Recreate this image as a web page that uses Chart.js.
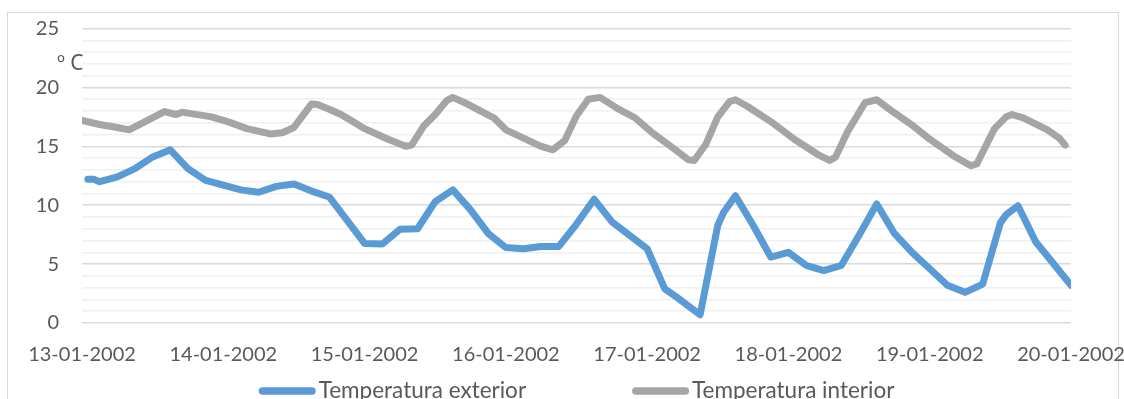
<!DOCTYPE html>
<html>
<head>
<meta charset="utf-8">
<script src="https://cdn.jsdelivr.net/npm/chart.js@4.4.1/dist/chart.umd.min.js"></script>
<style>
  html, body { margin: 0; padding: 0; background: #ffffff; overflow: hidden; }
  #frame { position: absolute; left: 7px; top: 12px; width: 1112px; height: 430px;
           border: 1px solid #d9d9d9; box-sizing: border-box; }
  #wrap { position: absolute; left: 0; top: 0; width: 1124px; height: 399px; }
</style>
</head>
<body>
<div id="frame"></div>
<div id="wrap"><canvas id="chart" width="1124" height="399"></canvas></div>
<script>
// Day labels shown under the time axis (one per midnight)
const dateLabels = ['13-01-2002', '14-01-2002', '15-01-2002', '16-01-2002',
                    '17-01-2002', '18-01-2002', '19-01-2002', '20-01-2002'];

// Outdoor temperature: hours since 13-01-2002 00:00 and readings in ºC
const exteriorHours = [1, 2, 3, 6, 9, 12, 14, 15, 18, 21, 24, 27, 30, 33, 36, 39, 42,
                       48, 51, 54, 57, 60, 63, 66, 69, 72, 75, 78, 81, 84, 87, 90, 93, 96,
                       99, 101, 105, 108, 109, 111, 114, 117, 120, 123, 126, 129, 132, 135,
                       138, 141, 144, 147, 150, 153, 156, 157, 159, 162, 165, 168];
const exteriorTemps = [12.2, 12.2, 12.0, 12.4, 13.1, 14.1, 14.5, 14.7, 13.1, 12.1, 11.7, 11.3, 11.1, 11.6, 11.8, 11.2, 10.7,
                       6.75, 6.7, 7.95, 8.0, 10.3, 11.3, 9.6, 7.6, 6.4, 6.3, 6.5, 6.5, 8.4, 10.5, 8.6, 7.45, 6.3,
                       2.9, 2.2, 0.7, 8.3, 9.4, 10.8, 8.3, 5.6, 6.0, 4.9, 4.45, 4.9, 7.45, 10.1,
                       7.6, 6.0, 4.6, 3.2, 2.6, 3.3, 8.5, 9.2, 9.95, 6.9, 5.05, 3.2];

// Indoor temperature: hours since 13-01-2002 00:00 and readings in ºC
const interiorHours = [0, 3, 6, 8, 14, 16, 17, 22, 25, 28, 32, 34, 36, 39, 40, 42, 44, 46,
                       48, 52, 55, 56, 58, 60, 62, 63, 65, 70, 72, 75, 78, 80, 82, 84, 86, 88,
                       91, 94, 97, 100, 103, 104, 106, 108, 110, 111, 113, 117, 121, 125, 127,
                       128, 130, 133, 135, 137, 141, 144, 148, 151, 152, 155, 157, 158, 160,
                       164, 166, 167];
const interiorTemps = [17.2, 16.85, 16.6, 16.4, 17.95, 17.7, 17.9, 17.5, 17.05, 16.5, 16.05, 16.15, 16.6, 18.6, 18.55, 18.15, 17.7, 17.1,
                       16.5, 15.6, 15.0, 15.1, 16.7, 17.7, 18.9, 19.15, 18.7, 17.4, 16.4, 15.7, 15.0, 14.7, 15.5, 17.6, 19.0, 19.15,
                       18.2, 17.4, 16.1, 15.0, 13.85, 13.8, 15.2, 17.5, 18.8, 18.95, 18.4, 17.1, 15.6, 14.3, 13.8,
                       14.1, 16.2, 18.7, 18.95, 18.2, 16.8, 15.6, 14.2, 13.35, 13.5, 16.5, 17.5, 17.7, 17.4,
                       16.4, 15.7, 15.1];

const seriesNames = ['Temperatura exterior', 'Temperatura interior'];
const seriesColors = ['#5b9bd5', '#a5a5a5'];
const unitLabel = 'º C';

const toPoints = (hours, temps) => hours.map((h, i) => ({ x: h, y: temps[i] }));

const textColor = '#595959';
const fontFamily = 'Lato, "Open Sans", sans-serif';

// Unit caption drawn beside the upper part of the value axis
const unitCaption = {
  id: 'unitCaption',
  afterDraw(chart, args, opts) {
    const { ctx, chartArea, scales } = chart;
    ctx.save();
    ctx.font = '21px "Noto Sans", sans-serif';
    ctx.fillStyle = textColor;
    ctx.textAlign = 'left';
    ctx.textBaseline = 'middle';
    ctx.fillText(opts.text, chartArea.left - 25, scales.y.getPixelForValue(22));
    ctx.restore();
  }
};

// Legend with line samples, centred under the plot area
const lineLegend = {
  id: 'lineLegend',
  afterDraw(chart, args, opts) {
    const { ctx, chartArea } = chart;
    ctx.save();
    ctx.font = `${opts.fontSize}px ${fontFamily}`;
    const items = chart.data.datasets.map(ds => ({
      text: ds.label, color: ds.borderColor, w: ctx.measureText(ds.label).width
    }));
    const total = items.reduce((s, it) => s + opts.sample + opts.gap + it.w, 0)
                  + opts.spacing * (items.length - 1);
    let x = (chartArea.left + chartArea.right) / 2 - total / 2;
    const yLine = chart.height - opts.bottom;
    items.forEach(it => {
      ctx.strokeStyle = it.color;
      ctx.lineWidth = opts.lineWidth;
      ctx.lineCap = 'round';
      ctx.beginPath();
      ctx.moveTo(x + opts.lineWidth / 2, yLine);
      ctx.lineTo(x + opts.sample - opts.lineWidth / 2, yLine);
      ctx.stroke();
      ctx.fillStyle = textColor;
      ctx.textAlign = 'left';
      ctx.textBaseline = 'middle';
      ctx.fillText(it.text, x + opts.sample + opts.gap, yLine);
      x += opts.sample + opts.gap + it.w + opts.spacing;
    });
    ctx.restore();
  }
};

Chart.defaults.font.family = fontFamily;
Chart.defaults.color = textColor;

const lineStyle = {
  borderWidth: 7,
  borderCapStyle: 'round',
  borderJoinStyle: 'round',
  pointRadius: 0,
  tension: 0,
  fill: false
};

new Chart(document.getElementById('chart'), {
  type: 'line',
  data: {
    datasets: [
      Object.assign({
        label: seriesNames[0],
        data: toPoints(exteriorHours, exteriorTemps),
        borderColor: seriesColors[0],
        backgroundColor: seriesColors[0]
      }, lineStyle),
      Object.assign({
        label: seriesNames[1],
        data: toPoints(interiorHours, interiorTemps),
        borderColor: seriesColors[1],
        backgroundColor: seriesColors[1]
      }, lineStyle)
    ]
  },
  options: {
    responsive: false,
    animation: false,
    devicePixelRatio: 1,
    layout: { padding: { left: 0, right: 53, top: 28.5, bottom: 36 } },
    plugins: {
      legend: { display: false },
      tooltip: { enabled: false },
      unitCaption: { text: unitLabel },
      lineLegend: { sample: 57, gap: 3, spacing: 106, lineWidth: 7.5, bottom: 8, fontSize: 22.5 }
    },
    scales: {
      x: {
        type: 'linear',
        min: 0,
        max: 168,
        afterFit: s => { s.height = 40; s.paddingLeft = 0; s.paddingRight = 0; },
        grid: { display: false, drawTicks: false },
        border: { display: false },
        ticks: {
          stepSize: 24,
          autoSkip: false,
          maxRotation: 0,
          padding: 20,
          font: { size: 20 },
          color: textColor,
          callback: v => dateLabels[Math.round(v / 24)]
        }
      },
      y: {
        min: 0,
        max: 25,
        afterFit: s => { s.width = 82; s.paddingTop = 0; s.paddingBottom = 0; },
        border: { display: false },
        grid: {
          drawTicks: false,
          lineWidth: 1.5,
          color: c => (c.tick.value % 5 === 0 ? '#d9d9d9' : '#f0f0f0')
        },
        ticks: {
          stepSize: 1,
          autoSkip: false,
          padding: 23,
          font: { size: 20 },
          color: textColor,
          callback: v => (v % 5 === 0 ? String(v) : '')
        }
      }
    }
  },
  plugins: [unitCaption, lineLegend]
});
</script>
</body>
</html>
